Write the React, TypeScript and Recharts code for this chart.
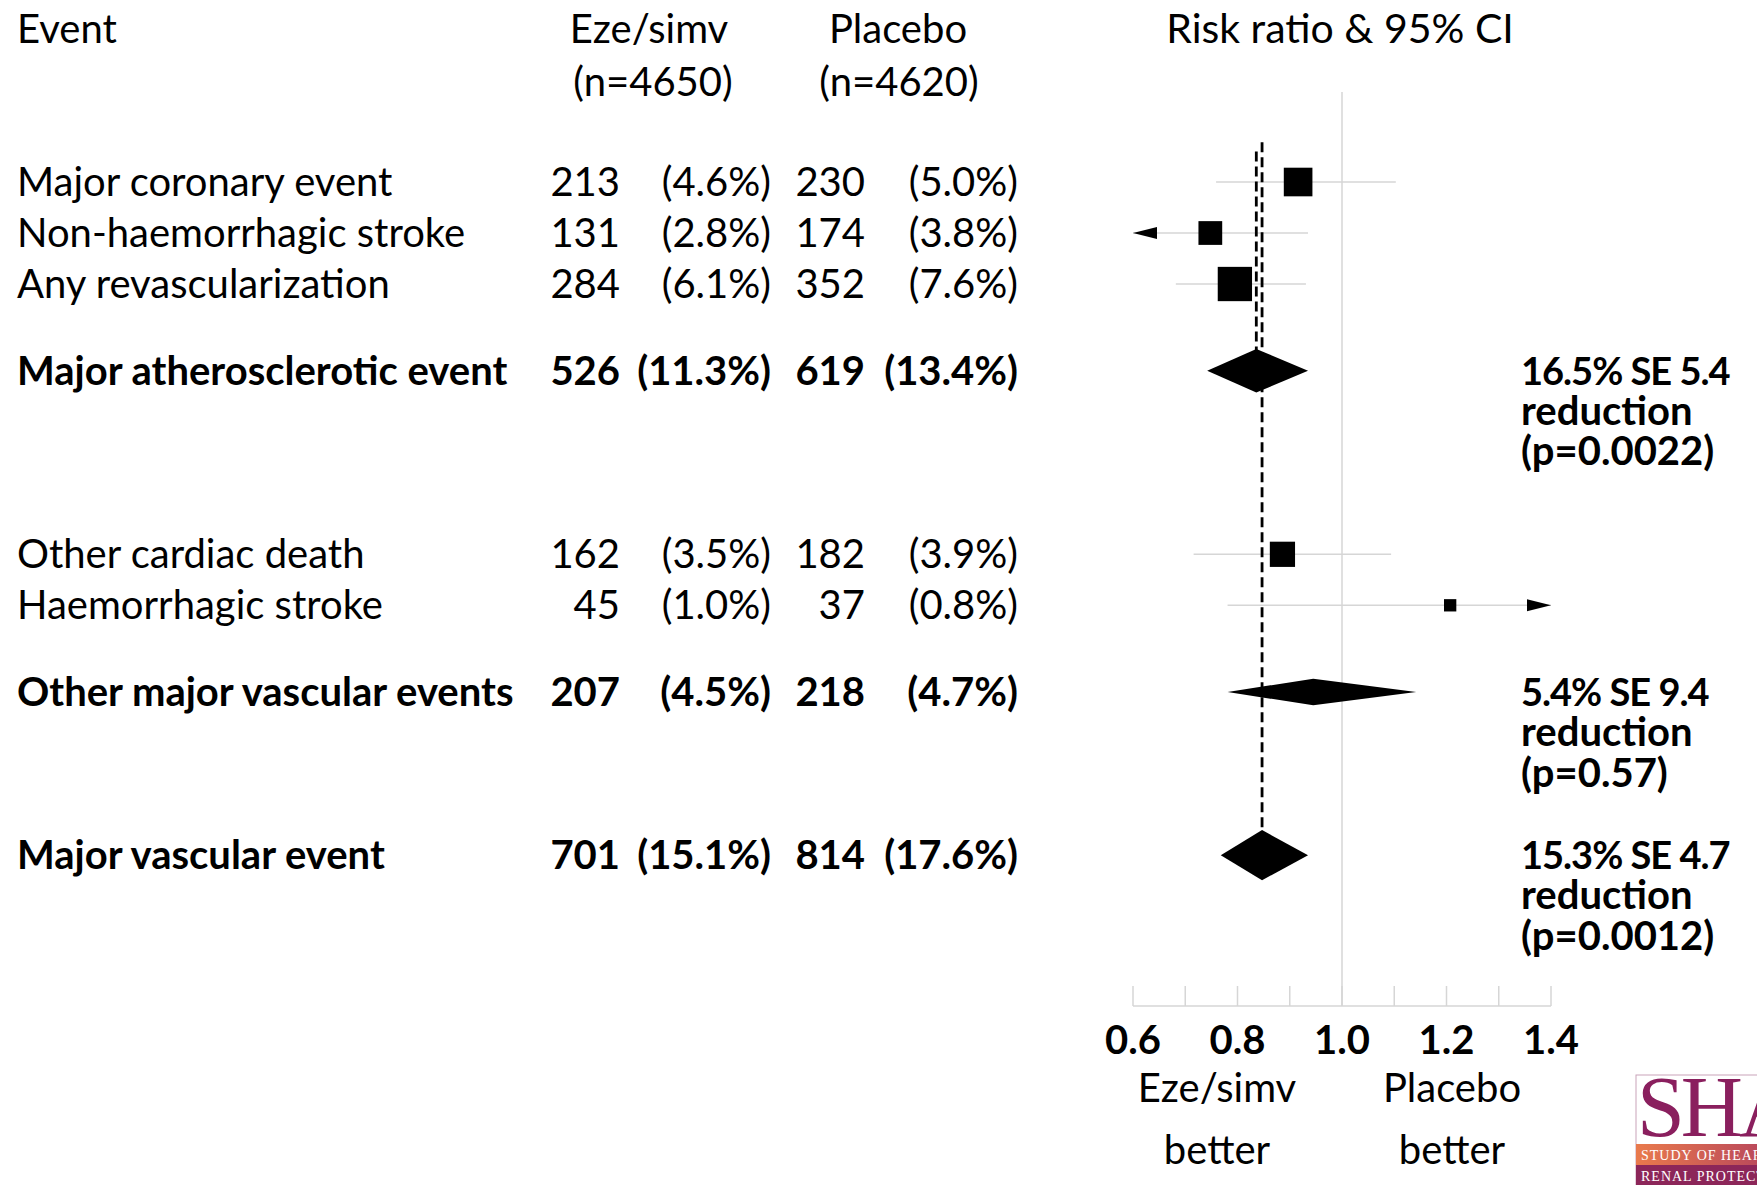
import React from "react";
import { ComposedChart, Scatter, XAxis, YAxis, ReferenceLine } from "recharts";

// ---- data ----
const events = [
  "Major coronary event",
  "Non-haemorrhagic stroke",
  "Any revascularization",
  "Major atherosclerotic event",
  "Other cardiac death",
  "Haemorrhagic stroke",
  "Other major vascular events",
  "Major vascular event",
];
const isTotal = [false, false, false, true, false, false, true, true];
const ezeCount = [213, 131, 284, 526, 162, 45, 207, 701];
const ezePct = ["4.6", "2.8", "6.1", "11.3", "3.5", "1.0", "4.5", "15.1"];
const placeboCount = [230, 174, 352, 619, 182, 37, 218, 814];
const placeboPct = ["5.0", "3.8", "7.6", "13.4", "3.9", "0.8", "4.7", "17.6"];
const riskRatio = [0.916, 0.748, 0.795, 0.836, 0.886, 1.207, 0.945, 0.847];
const ciLow = [0.759, 0.59, 0.682, 0.742, 0.716, 0.781, 0.781, 0.768];
const ciHigh = [1.103, 0.935, 0.931, 0.935, 1.094, 1.86, 1.142, 0.935];

const noteRows = [3, 6, 7];
const reduction = ["16.5", "5.4", "15.3"];
const reductionSE = ["5.4", "9.4", "4.7"];
const pValues = ["0.0022", "0.57", "0.0012"];

const xTicks = [0.6, 0.7, 0.8, 0.9, 1.0, 1.1, 1.2, 1.3, 1.4];
const X_MIN = 0.6;
const X_MAX = 1.4;

// ---- layout ----
const W = 1757;
const H = 1185;
const FONT = "Lato, 'Open Sans', sans-serif";
const FS = 40;
const GRID = "#d6d6d6";
const rowPos = [0, 1, 2, 3.7, 7.3, 8.3, 10, 13.2];
const Y_DOMAIN = [-1.765, 16.157];
const CAP = 14; // half cap height, baseline offset from row centre

const ciData = riskRatio.flatMap((_, i) =>
  isTotal[i]
    ? []
    : [
        { x: Math.max(ciLow[i], X_MIN), y: rowPos[i] },
        { x: Math.min(ciHigh[i], X_MAX), y: rowPos[i] },
      ]
);
const boxData = riskRatio
  .map((r, i) => ({ x: r, y: rowPos[i], n: ezeCount[i] + placeboCount[i], total: isTotal[i] }))
  .filter((d) => !d.total);
const arrowData = riskRatio.flatMap((_, i) => {
  const out: any[] = [];
  if (!isTotal[i] && ciLow[i] < X_MIN) out.push({ x: X_MIN, y: rowPos[i], dir: -1 });
  if (!isTotal[i] && ciHigh[i] > X_MAX) out.push({ x: X_MAX, y: rowPos[i], dir: 1 });
  return out;
});
const totalIdx = isTotal.map((t, i) => (t ? i : -1)).filter((i) => i >= 0);
const diamondData = totalIdx.flatMap((i) => [
  { x: ciLow[i], y: rowPos[i] },
  { x: riskRatio[i], y: rowPos[i] },
  { x: ciHigh[i], y: rowPos[i] },
]);
const dashData = [
  { x: riskRatio[3], y: rowPos[0] - 0.6 },
  { x: riskRatio[3], y: rowPos[3] },
  { x: riskRatio[7], y: rowPos[0] - 0.78 },
  { x: riskRatio[7], y: rowPos[7] },
];

const Hidden = () => <g />;

const pairLines = (stroke: string, width: number, dash?: string) => (props: any) => {
  const pts = props.points || [];
  const out = [];
  for (let i = 0; i + 1 < pts.length; i += 2) {
    out.push(
      <line
        key={i}
        x1={pts[i].x}
        y1={pts[i].y}
        x2={pts[i + 1].x}
        y2={pts[i + 1].y}
        stroke={stroke}
        strokeWidth={width}
        strokeDasharray={dash}
      />
    );
  }
  return <g>{out}</g>;
};

const diamonds = (props: any) => {
  const pts = props.points || [];
  const out = [];
  for (let k = 0; k * 3 + 2 < pts.length; k++) {
    const [a, b, c] = [pts[k * 3], pts[k * 3 + 1], pts[k * 3 + 2]];
    const i = totalIdx[k];
    const h = 0.645 * Math.sqrt(ezeCount[i] + placeboCount[i]);
    out.push(
      <polygon
        key={k}
        points={`${a.x},${a.y} ${b.x},${b.y - h} ${c.x},${c.y} ${b.x},${b.y + h}`}
        fill="#000"
      />
    );
  }
  return <g>{out}</g>;
};

const Box = (props: any) => {
  const s = 1.36 * Math.sqrt(props.payload.n);
  return <rect x={props.cx - s / 2} y={props.cy - s / 2} width={s} height={s} fill="#000" />;
};

const Arrow = (props: any) => {
  const { cx, cy } = props;
  const d = props.payload.dir;
  const len = 24;
  return (
    <polygon
      points={`${cx},${cy} ${cx - d * len},${cy - 6} ${cx - d * len},${cy + 6}`}
      fill="#000"
    />
  );
};

const TableTick = (props: any) => {
  const { y, index } = props;
  const i = index;
  const base = y + CAP;
  const fw = isTotal[i] ? 700 : 400;
  const common = { y: base, fontSize: FS, fontWeight: fw, fill: "#000", fontFamily: FONT };
  return (
    <g>
      <text x={17} {...common}>{events[i]}</text>
      <text x={620} textAnchor="end" {...common}>{ezeCount[i]}</text>
      <text x={771} textAnchor="end" {...common}>{`(${ezePct[i]}%)`}</text>
      <text x={865} textAnchor="end" {...common}>{placeboCount[i]}</text>
      <text x={1018} textAnchor="end" {...common}>{`(${placeboPct[i]}%)`}</text>
    </g>
  );
};

const NoteTick = (props: any) => {
  const { x, y, index } = props;
  const lines = [`${reduction[index]}% SE ${reductionSE[index]}`, "reduction", `(p=${pValues[index]})`];
  return (
    <g>
      {lines.map((t, k) => (
        <text
          key={k}
          x={x - 30}
          y={y + CAP + k * 40.3}
          fontSize={k === 0 ? 38 : FS}
          letterSpacing={k === 0 ? -1 : 0}
          fontWeight={700}
          fill="#000"
          fontFamily={FONT}
        >
          {t}
        </text>
      ))}
    </g>
  );
};

const AxisTick = (props: any) => {
  const { x, y, index, payload } = props;
  return (
    <g>
      <line x1={x} x2={x} y1={y - 20} y2={y} stroke={GRID} strokeWidth={1.5} />
      {index % 2 === 0 && (
        <text x={x} y={y + 48} textAnchor="middle" fontSize={FS} fontWeight={700} fill="#000" fontFamily={FONT}>
          {Number(payload.value).toFixed(1)}
        </text>
      )}
    </g>
  );
};

const Logo = () => (
  <g>
    <defs>
      <linearGradient id="sharpBand" x1="0" x2="1" y1="0" y2="0">
        <stop offset="0" stopColor="#e97a4c" />
        <stop offset="1" stopColor="#b4435d" />
      </linearGradient>
    </defs>
    <rect x={1636} y={1075} width={140} height={115} fill="#fff" stroke="#c9a3b9" strokeWidth={1} />
    <text x={1637} y={1136} fontSize={86} fontFamily="'Liberation Serif', serif" fill="#8a1f5e" letterSpacing={-4}>
      SHARP
    </text>
    <rect x={1636} y={1144} width={140} height={21} fill="url(#sharpBand)" />
    <rect x={1636} y={1165} width={140} height={22} fill="#8c2659" />
    <text x={1641} y={1160} fontSize={14} fontFamily="'Liberation Serif', serif" fill="#fff" letterSpacing={1}>
      STUDY OF HEART AND
    </text>
    <text x={1641} y={1181} fontSize={14} fontFamily="'Liberation Serif', serif" fill="#fff" letterSpacing={1}>
      RENAL PROTECTION
    </text>
  </g>
);

const Overlay = () => {
  const t = { fontSize: FS, fill: "#000", fontFamily: FONT };
  return (
    <svg width={W} height={H} style={{ position: "absolute", left: 0, top: 0, pointerEvents: "none" }}>
      <text x={17} y={43} {...t}>Event</text>
      <text x={649} y={43} textAnchor="middle" {...t}>Eze/simv</text>
      <text x={653} y={96} textAnchor="middle" {...t}>(n=4650)</text>
      <text x={898} y={43} textAnchor="middle" {...t}>Placebo</text>
      <text x={899} y={96} textAnchor="middle" {...t}>(n=4620)</text>
      <text x={1340} y={43} textAnchor="middle" {...t} fontSize={41}>Risk ratio &amp; 95% CI</text>
      <text x={1217} y={1102} textAnchor="middle" {...t}>Eze/simv</text>
      <text x={1217} y={1164} textAnchor="middle" {...t}>better</text>
      <text x={1452} y={1102} textAnchor="middle" {...t}>Placebo</text>
      <text x={1452} y={1164} textAnchor="middle" {...t}>better</text>
      <Logo />
    </svg>
  );
};

const App = () => {
  return (
    <div
      style={{
        position: "absolute",
        left: 0,
        top: 0,
        width: W,
        height: H,
        overflow: "hidden",
        background: "#fff",
        fontFamily: FONT,
      }}
    >
      <ComposedChart width={W} height={H} margin={{ top: 92, right: 0, bottom: 0, left: 0 }}>
        <XAxis
          type="number"
          dataKey="x"
          domain={[X_MIN, X_MAX]}
          ticks={xTicks}
          interval={0}
          allowDataOverflow
          height={179}
          tickSize={0}
          tickMargin={0}
          tickLine={false}
          axisLine={{ stroke: GRID, strokeWidth: 1.5 }}
          tick={(p: any) => <AxisTick {...p} />}
        />
        <YAxis
          type="number"
          dataKey="y"
          domain={Y_DOMAIN}
          reversed
          allowDataOverflow
          ticks={rowPos}
          interval={0}
          width={1133}
          axisLine={false}
          tickLine={false}
          tickSize={0}
          tickMargin={0}
          tick={(p: any) => <TableTick {...p} />}
        />
        <YAxis
          yAxisId="notes"
          orientation="right"
          type="number"
          dataKey="y"
          domain={Y_DOMAIN}
          reversed
          allowDataOverflow
          ticks={noteRows.map((r) => rowPos[r])}
          interval={0}
          width={206}
          axisLine={false}
          tickLine={false}
          tickSize={0}
          tickMargin={0}
          tick={(p: any) => <NoteTick {...p} />}
        />
        <ReferenceLine x={1} stroke={GRID} strokeWidth={1.5} zIndex={-1} />
        <Scatter
          data={ciData}
          shape={Hidden}
          line={pairLines(GRID, 1.5)}
          isAnimationActive={false}
        />
        <Scatter
          data={dashData}
          shape={Hidden}
          line={pairLines("#000", 2.8, "10 5")}
          isAnimationActive={false}
        />
        <Scatter data={arrowData} shape={Arrow} isAnimationActive={false} />
        <Scatter data={boxData} shape={Box} isAnimationActive={false} />
        <Scatter data={diamondData} shape={Hidden} line={diamonds} isAnimationActive={false} />
      </ComposedChart>
      <Overlay />
    </div>
  );
};

export default App;
